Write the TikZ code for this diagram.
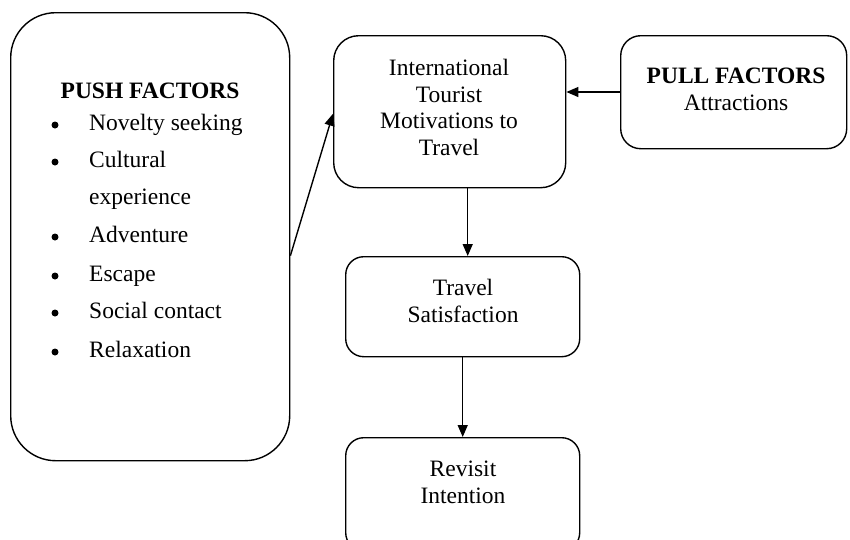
\documentclass[tikz,border=0pt]{standalone}
\usepackage{fontspec}
\setmainfont{Liberation Serif}
\usetikzlibrary{arrows.meta,calc}
\begin{document}
\begin{tikzpicture}[x=1pt,y=1pt,
  box/.style={draw, line width=1.4pt, inner sep=0pt, anchor=north west},
  txt/.style={inner sep=0pt, font=\fontsize{23.5}{26.5}\selectfont, align=center},
  itm/.style={inner sep=0pt, font=\fontsize{23.5}{26.5}\selectfont, anchor=base west},
  bul/.style={circle, fill, inner sep=0pt, minimum size=7pt},
  arr/.style={line width=1.4pt, -{Triangle[length=12pt,width=10pt]}}]
\clip (0,0) rectangle (850,-539);
\fill[white] (0,0) rectangle (850,-539);
% boxes
\node[box, rounded corners=45pt, minimum width=279pt, minimum height=448pt] (push) at (10,-12) {};
\node[box, rounded corners=25pt, minimum width=232pt, minimum height=152pt] (main) at (333,-35) {};
\node[box, rounded corners=20pt, minimum width=226pt, minimum height=113pt] (pull) at (620,-35) {};
\node[box, rounded corners=18pt, minimum width=234pt, minimum height=100pt] (sat) at (345,-256) {};
\node[box, rounded corners=18pt, minimum width=234pt, minimum height=113pt] (rev) at (345,-437) {};
% push text
\node[txt, anchor=base] (pusht) at (150,-98) {\textbf{PUSH FACTORS}};
\node[bul] (b1) at (55,-125) {};
\node[itm] (p1) at (89,-130) {Novelty seeking};
\node[bul] (b2) at (55,-162) {};
\node[itm] (p2) at (89,-167) {Cultural};
\node[itm] (p2b) at (89,-204) {experience};
\node[bul] (b3) at (55,-237) {};
\node[itm] (p3) at (89,-242) {Adventure};
\node[bul] (b4) at (55,-276) {};
\node[itm] (p4) at (89,-281) {Escape};
\node[bul] (b5) at (55,-313) {};
\node[itm] (p5) at (89,-318) {Social contact};
\node[bul] (b6) at (55,-352) {};
\node[itm] (p6) at (89,-357) {Relaxation};
% main text
\node[txt, anchor=north] (maint) at (449,-59) {International\\Tourist\\Motivations to\\Travel};
% pull text
\node[txt, anchor=north] (pullt) at (736,-68) {\textbf{PULL FACTORS}\\Attractions};
% sat text
\node[txt, anchor=north] (satt) at (463,-279) {Travel\\Satisfaction};
% rev text
\node[txt, anchor=north] (revt) at (463,-461) {Revisit\\Intention};
% arrows
\draw[arr] (pull.west |- 0,-92) -- (main.east |- 0,-92);
\draw[arr] ([yshift=-19pt]push.east) -- ([yshift=-2pt]main.west);
\draw[arr] ([xshift=18pt]main.south) -- ([xshift=18pt]main.south |- sat.north);
\draw[arr] (sat.south) -- (rev.north);
\end{tikzpicture}
\end{document}
